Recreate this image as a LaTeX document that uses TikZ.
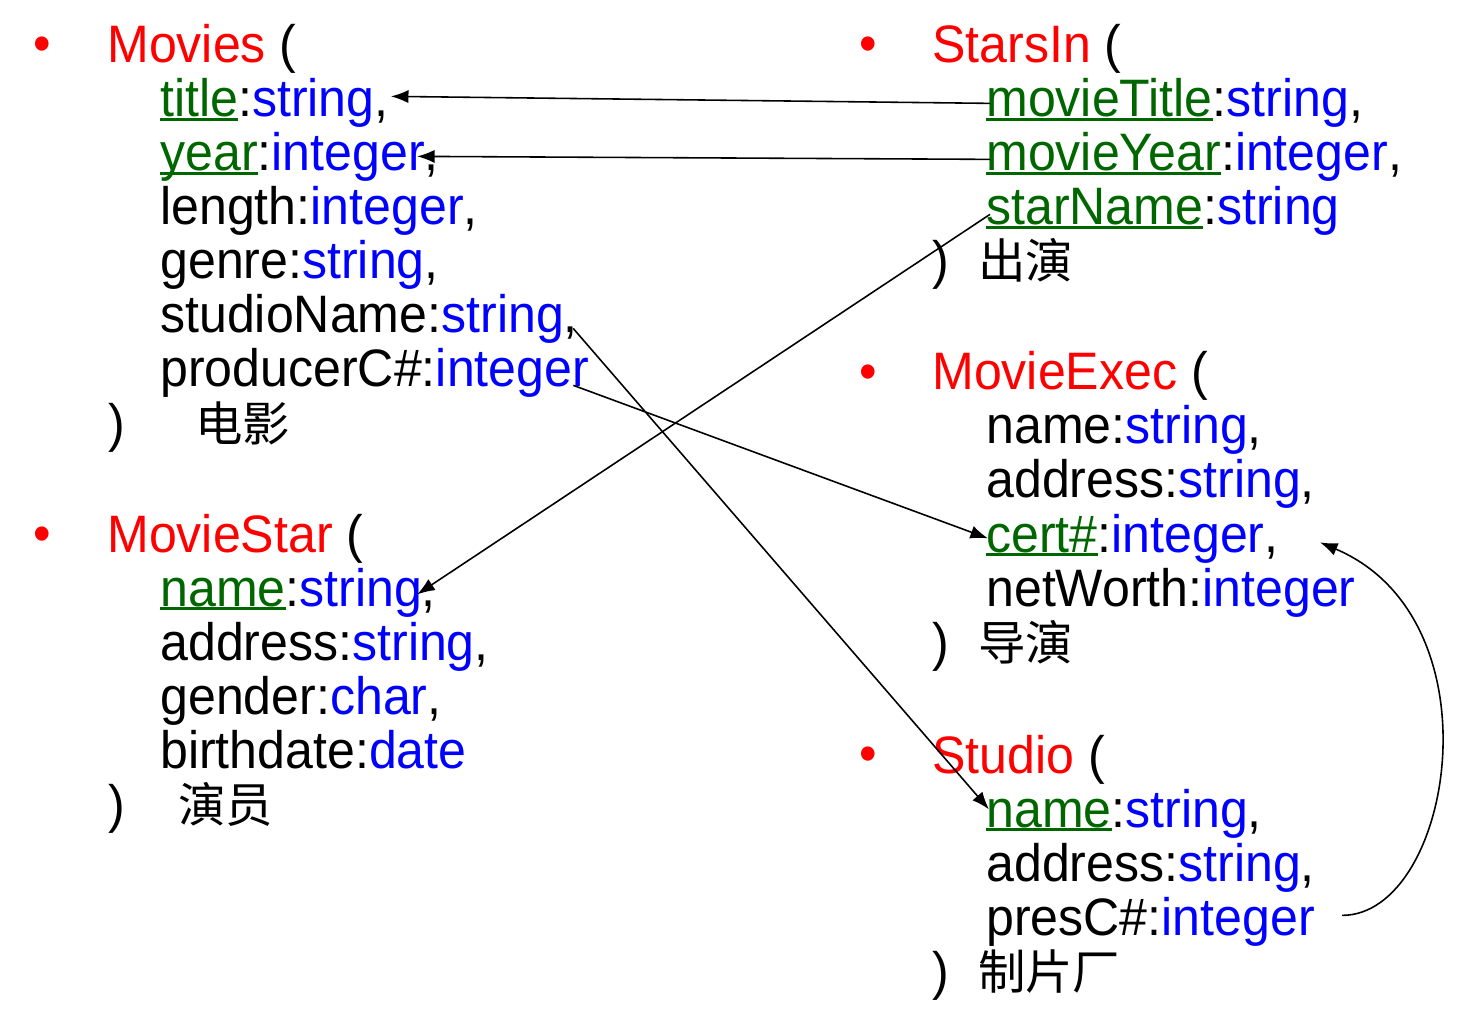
\documentclass[tikz,border=0pt]{standalone}
\usepackage{fontspec}
\setmainfont{Liberation Sans}[FakeStretch=0.95]
\newfontfamily\cjk{Noto Sans CJK SC}
\usetikzlibrary{calc}
\usetikzlibrary{arrows.meta}
\definecolor{cred}{rgb}{1.0, 0.0, 0.0}
\definecolor{cblue}{rgb}{0.0, 0.0, 1.0}
\definecolor{cgreen}{rgb}{0.0, 0.4, 0.0}
\newcommand{\key}[1]{{\color{cgreen}\setbox0\hbox{#1}\rlap{\rule[-0.07em]{\wd0}{0.045em}}\box0}}
\newcommand{\typ}[1]{\textcolor{cblue}{#1}}
\newcommand{\rel}[1]{\textcolor{cred}{#1}}
\newcommand{\zh}[1]{{\cjk\fontsize{27}{30}\selectfont #1}}

\begin{document}
\begin{tikzpicture}[x=0.02cm, y=-0.02cm,
    field/.style={anchor=base west, inner sep=0pt, font=\fontsize{30}{36}\selectfont},
    rbullet/.style={inner sep=0pt, text=cred, font=\fontsize{30}{30}\selectfont},
    link/.style={line width=0.9pt, -{Latex[length=10pt, width=7.5pt]}}]
  \useasboundingbox (0, 0) rectangle (1471, 1030);

  % Movies
  \node (b1) at (42, 49) [rbullet] {•};
  \node (movies) at (107, 63) [field] {\rel{Movies} (};
  \node (title) at (160, 117) [field] {\key{title}:\typ{string},};
  \node (year) at (160, 171) [field] {\key{year}:\typ{integer},};
  \node (length) at (160, 225) [field] {length:\typ{integer},};
  \node (genre) at (160, 279) [field] {genre:\typ{string},};
  \node (studioname) at (160, 333) [field] {studioName:\typ{string},};
  \node (producer) at (160, 387) [field] {producerC\#:\typ{integer}};
  \node (moviesend) at (108, 441) [field] {)\hspace{1.4cm}\zh{电影}};

  % MovieStar
  \node (b2) at (42, 539) [rbullet] {•};
  \node (moviestar) at (107, 552) [field] {\rel{MovieStar} (};
  \node (msname) at (160, 606) [field] {\key{name}:\typ{string},};
  \node (msaddr) at (160, 660) [field] {address:\typ{string},};
  \node (msgender) at (160, 714) [field] {gender:\typ{char},};
  \node (msbirth) at (160, 768) [field] {birthdate:\typ{date}};
  \node (moviestarend) at (108, 822) [field] {)\hspace{1.06cm}\zh{演员}};

  % StarsIn
  \node (b3) at (868, 49) [rbullet] {•};
  \node (starsin) at (932, 63) [field] {\rel{StarsIn} (};
  \node (mtitle) at (986, 117) [field] {\key{movieTitle}:\typ{string},};
  \node (myear) at (986, 171) [field] {\key{movieYear}:\typ{integer},};
  \node (sname) at (986, 225) [field] {\key{starName}:\typ{string}};
  \node (starsinend) at (932, 279) [field] {)\hspace{0.58cm}\zh{出演}};

  % MovieExec
  \node (b4) at (868, 377) [rbullet] {•};
  \node (movieexec) at (932, 390) [field] {\rel{MovieExec} (};
  \node (mename) at (986, 444) [field] {name:\typ{string},};
  \node (meaddr) at (986, 498) [field] {address:\typ{string},};
  \node (cert) at (986, 552) [field] {\key{cert\#}:\typ{integer},};
  \node (networth) at (986, 606) [field] {netWorth:\typ{integer}};
  \node (movieexecend) at (932, 660) [field] {)\hspace{0.58cm}\zh{导演}};

  % Studio
  \node (b5) at (868, 759) [rbullet] {•};
  \node (studio) at (932, 773) [field] {\rel{Studio} (};
  \node (stname) at (986, 827) [field] {\key{name}:\typ{string},};
  \node (staddr) at (986, 881) [field] {address:\typ{string},};
  \node (presc) at (986, 935) [field] {presC\#:\typ{integer}};
  \node (studioend) at (932, 989) [field] {)\hspace{0.58cm}\zh{制片厂}};

  % foreign keys
  \draw [link] ($(mtitle.west)+(4, 0)$) -- ($(title.east)+(2, -7)$);
  \draw [link] ($(myear.west)+(4, 2)$) -- ($(year.east)+(-22, -1)$);
  \draw [link] ($(sname.west)+(4, 3)$) -- ($(msname.east)+(-19, 2)$);
  \draw [link] ($(studioname.east)+(-5, 9)$) -- ($(stname.west)+(3, -4)$);
  \draw [link] ($(producer.east)+(-16, 12)$) -- ($(cert.west)+(2, 0)$);
  \draw [link] ($(presc.east)+(27, -6)$)
    .. controls +(110, 0) and +(182, 77) .. ($(cert.east)+(41, 4)$);
\end{tikzpicture}
\end{document}
